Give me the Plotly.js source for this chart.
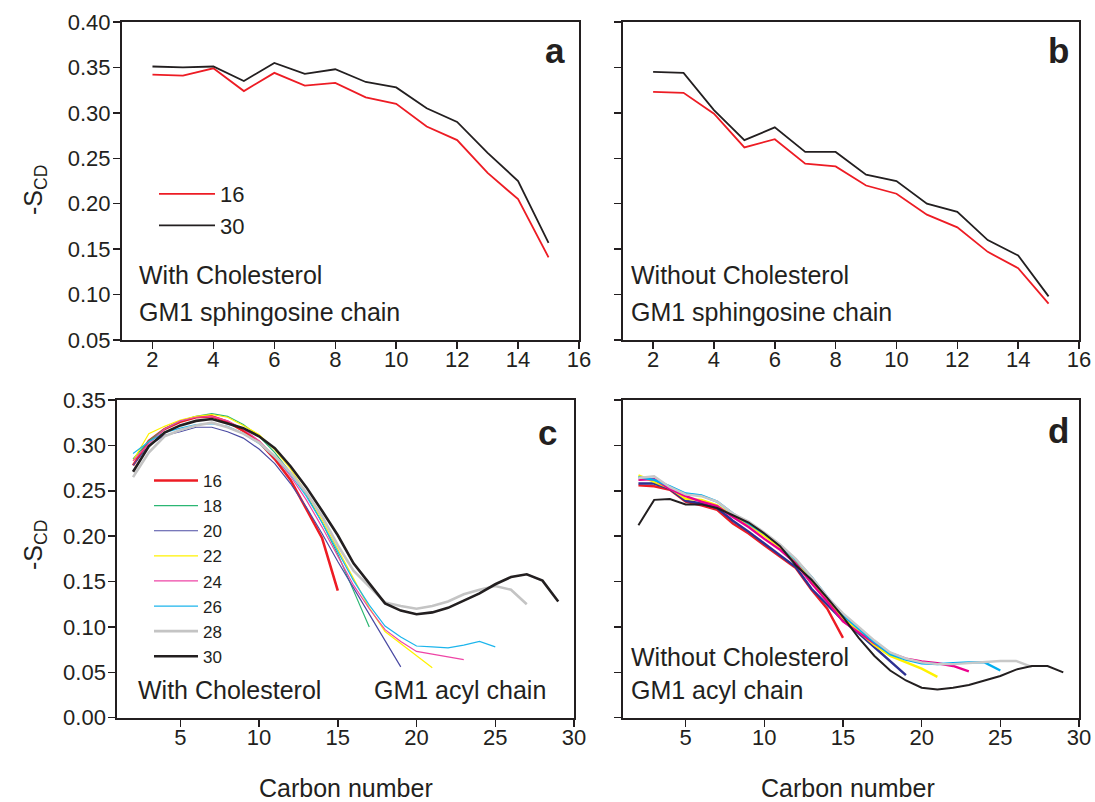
<!DOCTYPE html>
<html>
<head>
<meta charset="utf-8">
<script src="https://cdn.plot.ly/plotly-3.0.1.min.js"></script>
<style>html,body{margin:0;padding:0;background:#fff;}#chart{width:1095px;height:802px;}</style>
</head>
<body>
<div id="chart"></div>
<script>
// ---------- DATA ----------
const carbonSph = [2,3,4,5,6,7,8,9,10,11,12,13,14,15];
const carbonAcyl = [2,3,4,5,6,7,8,9,10,11,12,13,14,15,16,17,18,19,20,21,22,23,24,25,26,27,28,29];

// Panel a: with cholesterol, sphingosine chain
const sphWith16 = [0.342,0.341,0.349,0.324,0.344,0.330,0.333,0.317,0.310,0.285,0.270,0.234,0.205,0.141];
const sphWith30 = [0.351,0.350,0.351,0.335,0.355,0.343,0.348,0.334,0.328,0.305,0.290,0.256,0.225,0.157];
// Panel b: without cholesterol, sphingosine chain
const sphWithout16 = [0.323,0.322,0.299,0.262,0.271,0.244,0.241,0.220,0.211,0.188,0.174,0.147,0.129,0.090];
const sphWithout30 = [0.345,0.344,0.303,0.270,0.284,0.257,0.257,0.232,0.225,0.200,0.191,0.160,0.143,0.098];

// Panel c: with cholesterol, acyl chain
const acylWith16 = [0.278,0.305,0.318,0.326,0.331,0.332,0.326,0.316,0.304,0.285,0.262,0.230,0.198,0.140];
const acylWith18 = [0.285,0.305,0.318,0.327,0.332,0.335,0.332,0.323,0.310,0.292,0.270,0.246,0.215,0.180,0.140,0.100];
const acylWith20 = [0.278,0.300,0.311,0.315,0.320,0.320,0.315,0.308,0.296,0.280,0.258,0.232,0.203,0.172,0.143,0.114,0.085,0.056];
const acylWith22 = [0.283,0.313,0.321,0.328,0.332,0.334,0.331,0.322,0.312,0.295,0.274,0.248,0.218,0.186,0.153,0.121,0.095,0.082,0.069,0.055];
const acylWith24 = [0.283,0.302,0.318,0.327,0.331,0.332,0.327,0.318,0.305,0.288,0.266,0.240,0.210,0.178,0.146,0.120,0.097,0.084,0.073,0.070,0.067,0.064];
const acylWith26 = [0.291,0.304,0.314,0.319,0.323,0.324,0.321,0.313,0.302,0.287,0.268,0.244,0.215,0.183,0.151,0.124,0.101,0.089,0.079,0.078,0.077,0.080,0.084,0.078];
const acylWith28 = [0.265,0.292,0.310,0.317,0.322,0.325,0.320,0.313,0.303,0.288,0.270,0.248,0.222,0.190,0.162,0.144,0.127,0.123,0.120,0.123,0.128,0.136,0.141,0.145,0.141,0.125];
const acylWith30 = [0.271,0.299,0.314,0.322,0.327,0.329,0.324,0.319,0.310,0.297,0.277,0.254,0.228,0.201,0.170,0.148,0.126,0.118,0.114,0.116,0.121,0.129,0.137,0.147,0.155,0.158,0.151,0.128];

// Panel d: without cholesterol, acyl chain
const acylWithout16 = [0.256,0.255,0.251,0.238,0.234,0.229,0.214,0.203,0.190,0.177,0.165,0.141,0.120,0.088];
const acylWithout20 = [0.258,0.258,0.252,0.239,0.236,0.231,0.217,0.205,0.192,0.179,0.166,0.142,0.124,0.107,0.093,0.078,0.063,0.047];
const acylWithout22 = [0.267,0.260,0.253,0.241,0.240,0.234,0.222,0.213,0.201,0.188,0.171,0.150,0.130,0.110,0.095,0.080,0.068,0.061,0.054,0.045];
const acylWithout24 = [0.262,0.263,0.252,0.244,0.238,0.233,0.221,0.210,0.197,0.185,0.170,0.148,0.128,0.106,0.094,0.082,0.071,0.065,0.062,0.060,0.057,0.051];
const acylWithout26 = [0.265,0.262,0.255,0.247,0.245,0.238,0.225,0.214,0.203,0.190,0.174,0.155,0.133,0.113,0.098,0.083,0.070,0.064,0.060,0.059,0.060,0.061,0.061,0.052];
const acylWithout28 = [0.264,0.266,0.254,0.246,0.244,0.238,0.225,0.216,0.204,0.191,0.175,0.155,0.133,0.115,0.100,0.085,0.072,0.065,0.061,0.059,0.059,0.060,0.061,0.0625,0.0625,0.056];
const acylWithout30 = [0.212,0.240,0.241,0.235,0.235,0.231,0.223,0.215,0.203,0.189,0.168,0.152,0.132,0.111,0.088,0.068,0.052,0.041,0.033,0.031,0.033,0.036,0.041,0.046,0.053,0.057,0.057,0.050];

const sphLabels = ['16','30'];
const acylLabels = ['16','18','20','22','24','26','28','30'];
const yTicksTop = [0.05,0.10,0.15,0.20,0.25,0.30,0.35,0.40];
const yTicksBottom = [0.00,0.05,0.10,0.15,0.20,0.25,0.30,0.35];
const xTicksTop = [2,4,6,8,10,12,14,16];
const xTicksBottom = [5,10,15,20,25,30];

// ---------- STYLE ----------
const W = 1095, H = 802;
const fx = p => p / W;
const fy = p => 1 - p / H;
const INK = '#231f20';
const FONT = 'Arial, "Liberation Sans", Helvetica, sans-serif';

const colC = {'16':'#ed1c24','18':'#2bb673','20':'#4b4ba3','22':'#fff200','24':'#ee45a6','26':'#1cb5ec','28':'#c4c4c4','30':'#231f20'};
const widC = {'16':2.6,'18':1.2,'20':1.2,'22':1.2,'24':1.2,'26':1.2,'28':2.6,'30':2.6};
const colD = {'16':'#ed1c24','20':'#2e3192','22':'#fff200','24':'#ec008c','26':'#00aeef','28':'#c8c8c8','30':'#231f20'};

function tr(x, y, xa, ya, color, width, name, legend, show) {
  return {x: x.slice(0, y.length), y: y, xaxis: xa, yaxis: ya, type: 'scatter', mode: 'lines',
          line: {color: color, width: width}, name: name, legend: legend, showlegend: show, hoverinfo: 'skip'};
}

const traces = [];
// a
traces.push(tr(carbonSph, sphWith16, 'x', 'y', '#ed1c24', 1.8, sphLabels[0], 'legend', true));
traces.push(tr(carbonSph, sphWith30, 'x', 'y', INK, 1.8, sphLabels[1], 'legend', true));
// b
traces.push(tr(carbonSph, sphWithout16, 'x2', 'y2', '#ed1c24', 1.8, sphLabels[0], 'legend', false));
traces.push(tr(carbonSph, sphWithout30, 'x2', 'y2', INK, 1.8, sphLabels[1], 'legend', false));
// c
const cSeries = [acylWith16, acylWith18, acylWith20, acylWith22, acylWith24, acylWith26, acylWith28, acylWith30];
cSeries.forEach((s, i) => {
  const lab = acylLabels[i];
  traces.push(tr(carbonAcyl, s, 'x3', 'y3', colC[lab], widC[lab], lab, 'legend2', true));
});
// d
const dSeries = [['16', acylWithout16], ['20', acylWithout20], ['22', acylWithout22], ['24', acylWithout24],
                 ['26', acylWithout26], ['28', acylWithout28], ['30', acylWithout30]];
dSeries.forEach(([lab, s]) => {
  traces.push(tr(carbonAcyl, s, 'x4', 'y4', colD[lab], lab === '30' ? 2.0 : 2.4, lab, 'legend2', false));
});

const axBase = {
  showgrid: false, zeroline: false, showline: true, mirror: true, linewidth: 2, linecolor: INK,
  ticks: 'outside', ticklen: 7, tickwidth: 1.5, tickcolor: INK,
  tickfont: {family: FONT, size: 22, color: INK}, fixedrange: true
};
const xBase = Object.assign({}, axBase, {ticklabelstandoff: -8});
const yBase = Object.assign({}, axBase, {ticklabelstandoff: -2});

const dTop = [fy(340), fy(22)];
const dBot = [fy(717.7), fy(400)];

const layout = {
  width: W, height: H, margin: {l: 0, r: 0, t: 0, b: 0},
  paper_bgcolor: '#fff', plot_bgcolor: '#fff',
  font: {family: FONT, color: INK},
  xaxis: Object.assign({}, xBase, {domain: [fx(122), fx(579)], anchor: 'y', range: [1, 16], tickvals: xTicksTop}),
  yaxis: Object.assign({}, yBase, {domain: dTop, anchor: 'x', range: [0.05, 0.40], tickvals: yTicksTop, tickformat: '.2f'}),
  xaxis2: Object.assign({}, xBase, {domain: [fx(622.7), fx(1079)], anchor: 'y2', range: [1, 16], tickvals: xTicksTop}),
  yaxis2: Object.assign({}, yBase, {domain: dTop, anchor: 'x2', range: [0.05, 0.40], tickvals: yTicksTop, showticklabels: false}),
  xaxis3: Object.assign({}, xBase, {domain: [fx(117.3), fx(574)], anchor: 'y3', range: [1, 30], tickvals: xTicksBottom}),
  yaxis3: Object.assign({}, yBase, {domain: dBot, anchor: 'x3', range: [0, 0.35], tickvals: yTicksBottom, tickformat: '.2f'}),
  xaxis4: Object.assign({}, xBase, {domain: [fx(622.7), fx(1079)], anchor: 'y4', range: [1, 30], tickvals: xTicksBottom}),
  yaxis4: Object.assign({}, yBase, {domain: dBot, anchor: 'x4', range: [0, 0.35], tickvals: yTicksBottom, showticklabels: false}),
  legend: {x: fx(154), y: fy(173), xanchor: 'left', yanchor: 'top', bgcolor: 'rgba(0,0,0,0)', itemwidth: 56,
           font: {family: FONT, size: 22, color: INK}, tracegroupgap: 0, itemclick: false, itemdoubleclick: false},
  legend2: {x: fx(149), y: fy(463), xanchor: 'left', yanchor: 'top', bgcolor: 'rgba(0,0,0,0)', itemwidth: 44,
            font: {family: FONT, size: 17, color: INK}, tracegroupgap: 0, itemclick: false, itemdoubleclick: false},
  annotations: []
};

function note(text, x, y, size, opts) {
  layout.annotations.push(Object.assign({text: text, xref: 'paper', yref: 'paper', x: fx(x), y: fy(y),
    xanchor: 'left', yanchor: 'middle', showarrow: false, font: {family: FONT, size: size, color: INK}}, opts || {}));
}
// panel text
note('With Cholesterol', 137, 275, 25);
note('GM1 sphingosine chain', 137, 312, 25);
note('Without Cholesterol', 629, 275, 25);
note('GM1 sphingosine chain', 629, 312, 25);
note('With Cholesterol', 136, 690, 25);
note('GM1 acyl chain', 372, 690, 25);
note('Without Cholesterol', 629, 657, 25);
note('GM1 acyl chain', 629, 690, 25);
// panel letters
note('<b>a</b>', 555, 50, 35, {xanchor: 'center'});
note('<b>b</b>', 1058, 50, 35, {xanchor: 'center'});
note('<b>c</b>', 547, 433, 35, {xanchor: 'center'});
note('<b>d</b>', 1058, 430, 35, {xanchor: 'center'});
// axis titles
note('-S<sub>CD</sub>', 35, 190, 25, {xanchor: 'center', textangle: -90});
note('-S<sub>CD</sub>', 35, 545, 25, {xanchor: 'center', textangle: -90});
note('Carbon number', 346, 788, 25, {xanchor: 'center'});
note('Carbon number', 848, 788, 25, {xanchor: 'center'});

Plotly.newPlot('chart', traces, layout, {displayModeBar: false, staticPlot: true});
</script>
</body>
</html>
